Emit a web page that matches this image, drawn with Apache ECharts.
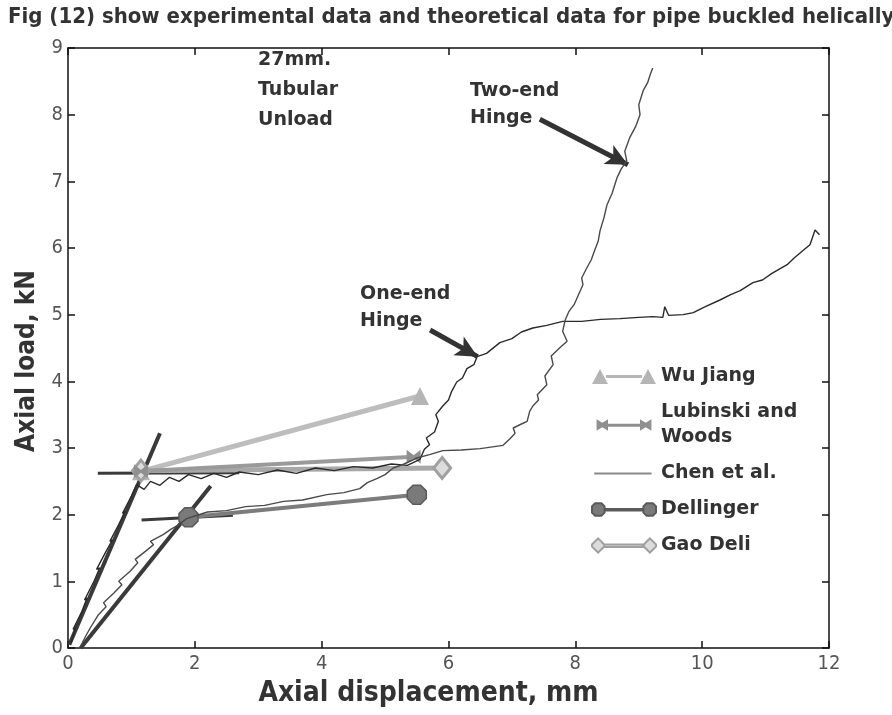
<!DOCTYPE html>
<html>
<head>
<meta charset="utf-8">
<script src="https://cdn.jsdelivr.net/npm/echarts@6/dist/echarts.min.js"></script>
<style>html,body{margin:0;padding:0;background:#fff}#c{width:892px;height:715px}</style>
</head>
<body>
<div id="c"></div>
<script>
// ---- data ----
const xTicks = [0, 2, 4, 6, 8, 10, 12];
const yTicks = [0, 1, 2, 3, 4, 5, 6, 7, 8, 9];

// Chen et al. experimental curve, one-end hinge
const chenOneEnd = [
  [0.05,0.08],[0.12,0.3],[0.08,0.28],[0.22,0.55],[0.3,0.75],[0.26,0.72],[0.4,0.98],[0.5,1.2],[0.45,1.18],
  [0.6,1.45],[0.7,1.62],[0.66,1.6],[0.8,1.85],[0.9,2.05],[0.86,2.02],[1.0,2.28],[1.08,2.45],[1.2,2.38],
  [1.3,2.5],[1.45,2.44],[1.6,2.56],[1.75,2.5],[1.9,2.6],[2.1,2.54],[2.3,2.62],[2.5,2.56],[2.7,2.64],
  [3.0,2.6],[3.3,2.67],[3.6,2.62],[3.9,2.7],[4.2,2.66],[4.5,2.72],[4.8,2.7],[5.1,2.76],[5.35,2.74],
  [5.55,2.83],[5.62,2.98],[5.7,3.05],[5.65,3.15],[5.78,3.24],[5.84,3.4],[5.8,3.5],[5.91,3.63],
  [6.0,3.72],[6.05,3.85],[6.13,3.99],[6.22,4.05],[6.29,4.19],[6.4,4.25],[6.45,4.37],[6.6,4.42],
  [6.81,4.58],[7.0,4.64],[7.15,4.74],[7.33,4.8],[7.55,4.84],[7.8,4.9],[8.1,4.9],[8.4,4.93],[8.7,4.94],
  [9.0,4.96],[9.22,4.97],[9.38,4.96],[9.41,5.12],[9.47,4.99],[9.7,5.0],[9.86,5.03],[10.05,5.12],
  [10.28,5.22],[10.45,5.3],[10.6,5.36],[10.8,5.48],[10.95,5.52],[11.1,5.62],[11.34,5.75],[11.45,5.85],
  [11.6,5.97],[11.7,6.05],[11.78,6.27],[11.85,6.2]
];
// Chen et al. experimental curve, two-end hinge
const chenTwoEnd = [
  [0.2,0.03],[0.28,0.18],[0.35,0.3],[0.32,0.33],[0.48,0.5],[0.6,0.62],[0.56,0.68],[0.72,0.82],
  [0.85,0.95],[0.8,1.0],[0.98,1.15],[1.1,1.28],[1.06,1.33],[1.22,1.45],[1.35,1.55],[1.3,1.6],
  [1.5,1.7],[1.62,1.78],[1.75,1.85],[1.87,1.94],[2.0,1.98],[2.2,2.04],[2.5,2.06],[2.8,2.12],
  [3.1,2.14],[3.4,2.2],[3.7,2.22],[4.08,2.3],[4.35,2.33],[4.6,2.39],[4.72,2.48],[4.87,2.54],
  [5.0,2.6],[5.13,2.7],[5.3,2.76],[5.5,2.85],[5.7,2.9],[5.91,2.96],[6.2,2.97],[6.5,2.99],[6.86,3.04],
  [6.97,3.14],[7.05,3.22],[7.02,3.3],[7.15,3.36],[7.24,3.4],[7.28,3.55],[7.33,3.63],[7.42,3.72],
  [7.4,3.8],[7.55,3.95],[7.52,4.08],[7.65,4.25],[7.62,4.38],[7.75,4.5],[7.87,4.6],[7.8,4.75],
  [7.84,4.92],[7.9,5.05],[7.98,5.15],[8.05,5.3],[8.12,5.45],[8.1,5.55],[8.18,5.7],[8.25,5.82],
  [8.3,5.95],[8.36,6.1],[8.39,6.26],[8.45,6.45],[8.5,6.65],[8.58,6.82],[8.66,7.06],[8.72,7.18],
  [8.81,7.31],[8.78,7.45],[8.86,7.66],[8.95,7.82],[9.02,8.0],[9.0,8.15],[9.07,8.36],[9.14,8.48],
  [9.18,8.6],[9.22,8.7]
];
// straight elastic lines and plateau lines (unlabelled)
const elastic1 = [[0.02,0.05],[1.45,3.22]];
const elastic2 = [[0.2,0.0],[2.25,2.43]];
const plateau1 = [[0.47,2.62],[2.7,2.63]];
const plateau2 = [[1.16,1.92],[2.6,1.99]];

// theoretical models
const wuJiang   = [[1.15,2.65],[5.55,3.78]];
const lubinski  = [[1.15,2.65],[5.45,2.87]];
const gaoDeli   = [[1.15,2.66],[5.9,2.7]];
const dellinger = [[1.9,1.96],[5.5,2.3]];

// annotations
const arrowTwoEnd = [[7.44,7.93],[8.83,7.25]];
const arrowOneEnd = [[5.71,4.77],[6.46,4.37]];

// ---- chart ----
const narrow = "'Liberation Sans Narrow','DejaVu Sans Condensed','Liberation Sans',sans-serif";
const bold = "'DejaVu Sans',sans-serif";
const ink = '#333';

const octagon = 'path://M3,0H7L10,3V7L7,10H3L0,7V3Z';
const bowtie = 'path://M0,0L5,4L10,0V10L5,6L0,10Z';

const chart = echarts.init(document.getElementById('c'), null, {renderer: 'canvas'});

function frameAxis(base) {
  return Object.assign({
    type: 'value', min: 0,
    axisLine: {show: true, onZero: false, lineStyle: {color: '#111', width: 1.5}},
    axisTick: {show: true, inside: true, length: 7, lineStyle: {color: '#111', width: 1.5}},
    splitLine: {show: false}
  }, base);
}

const option = {
  backgroundColor: '#fff',
  animation: false,
  title: {
    text: 'Fig (12) show experimental data and theoretical data for pipe buckled helically',
    left: 3, top: 1,
    textStyle: {fontFamily: narrow, fontWeight: 'bold', fontSize: 22, color: ink}
  },
  grid: {left: 68, right: 63, top: 48, bottom: 67, containLabel: false},
  xAxis: [
    frameAxis({
      max: 12, interval: 2, position: 'bottom',
      name: 'Axial displacement, mm', nameLocation: 'middle', nameGap: 32,
      nameTextStyle: {fontFamily: narrow, fontWeight: 'bold', fontSize: 28, color: ink, padding: [0, 40, 0, 0]},
      axisLabel: {show: true, margin: 6, fontFamily: narrow, fontSize: 20, color: '#555',
        formatter: v => xTicks.includes(v) ? String(v) : ''}
    }),
    frameAxis({max: 12, interval: 2, position: 'top', axisLabel: {show: false}})
  ],
  yAxis: [
    frameAxis({
      max: 9, interval: 1, position: 'left',
      name: 'Axial load, kN', nameLocation: 'middle', nameGap: 26, nameRotate: 90,
      nameTextStyle: {fontFamily: narrow, fontWeight: 'bold', fontSize: 26, color: ink, padding: [0, 26, 0, 0]},
      axisLabel: {show: true, margin: 5, fontFamily: narrow, fontSize: 20, color: '#555',
        formatter: v => yTicks.includes(v) ? String(v) : ''}
    }),
    frameAxis({max: 9, interval: 1, position: 'right', axisLabel: {show: false}})
  ],
  legend: {
    orient: 'vertical', left: 586, top: 359, itemWidth: 64, itemHeight: 16, itemGap: 11,
    textStyle: {fontFamily: bold, fontWeight: 'bold', fontSize: 19, color: ink, lineHeight: 25},
    data: [
      {name: 'Wu Jiang', icon: 'path://M0,16L8,1L16,16Z M14,7H50V10H14Z M48,16L56,1L64,16Z'},
      {name: 'Lubinski and\nWoods', icon: 'path://M4,3L9,6L14,3V13L9,10L4,13Z M12,7H44V9.5H12Z M42,3L47,6L52,3V13L47,10L42,13Z M0,8H0.01 M56,8H56.01'},
      {name: 'Chen et al.', icon: 'path://M2,7H54V9H2Z M0,8H0.01 M58,8H58.01', itemStyle: {color: '#8a8a8a'}},
      {name: 'Dellinger', icon: 'path://M3,2H9L12,5V11L9,14H3L0,11V5Z M12,7.5H49V9H12Z M52,2H58L61,5V11L58,14H52L49,11V5Z'},
      {name: 'Gao Deli', icon: 'path://M7,1L13,7V9L7,15L1,9V7Z M13,7H51V9.5H13Z M58,1L64,7V9L58,15L52,9V7Z'}
    ]
  },
  graphic: [
    {type: 'text', left: 258, top: 45, style: {text: '27mm.\nTubular\nUnload', font: "bold 19px 'DejaVu Sans'", fill: ink, lineHeight: 30}},
    {type: 'text', left: 470, top: 78, style: {text: 'Two-end\nHinge', font: "bold 19px 'DejaVu Sans'", fill: ink, lineHeight: 27}},
    {type: 'text', left: 360, top: 281, style: {text: 'One-end\nHinge', font: "bold 19px 'DejaVu Sans'", fill: ink, lineHeight: 27}}
  ],
  series: [
    {name: 'elastic', type: 'line', data: elastic1, symbol: 'none', lineStyle: {color: '#3a3a3a', width: 4}, z: 3},
    {name: 'elastic', type: 'line', data: elastic2, symbol: 'none', lineStyle: {color: '#3a3a3a', width: 4}, z: 3},
    {name: 'elastic', type: 'line', data: plateau1, symbol: 'none', lineStyle: {color: '#3a3a3a', width: 3}, z: 3},
    {name: 'elastic', type: 'line', data: plateau2, symbol: 'none', lineStyle: {color: '#3a3a3a', width: 3}, z: 3},
    {name: 'Wu Jiang', type: 'line', data: wuJiang, symbol: 'triangle', symbolSize: 18,
      lineStyle: {color: '#bdbdbd', width: 5}, itemStyle: {color: '#b5b5b5'}, z: 4},
    {name: 'Dellinger', type: 'line', data: dellinger, symbol: octagon, symbolSize: 19,
      lineStyle: {color: '#7c7c7c', width: 4}, itemStyle: {color: '#7a7a7a', borderColor: '#5a5a5a', borderWidth: 1.5}, z: 4},
    {name: 'Gao Deli', type: 'line', data: gaoDeli, symbol: 'diamond', symbolSize: [17, 21],
      lineStyle: {color: '#a8a8a8', width: 5}, itemStyle: {color: '#dcdcdc', borderColor: '#a0a0a0', borderWidth: 3}, z: 4},
    {name: 'Lubinski and\nWoods', type: 'line', data: lubinski, symbol: bowtie, symbolSize: 14,
      lineStyle: {color: '#9a9a9a', width: 4}, itemStyle: {color: '#8f8f8f'}, z: 4},
    {name: 'Chen et al.', type: 'line', data: chenOneEnd, symbol: 'none',
      lineStyle: {color: '#2a2a2a', width: 1.4}, itemStyle: {color: '#2a2a2a'}, z: 5},
    {name: 'Chen et al.', type: 'line', data: chenTwoEnd, symbol: 'none',
      lineStyle: {color: '#4a4a4a', width: 1.4}, itemStyle: {color: '#4a4a4a'}, z: 5},
    {name: 'annot', type: 'line', data: [], symbol: 'none', silent: true,
      markLine: {
        silent: true, symbol: ['none', 'arrow'], symbolSize: [16, 22], label: {show: false},
        lineStyle: {color: '#333', width: 5, type: 'solid'},
        data: [
          [{coord: arrowTwoEnd[0]}, {coord: arrowTwoEnd[1]}],
          [{coord: arrowOneEnd[0]}, {coord: arrowOneEnd[1]}]
        ]
      }, z: 6}
  ]
};
chart.setOption(option);
</script>
</body>
</html>
